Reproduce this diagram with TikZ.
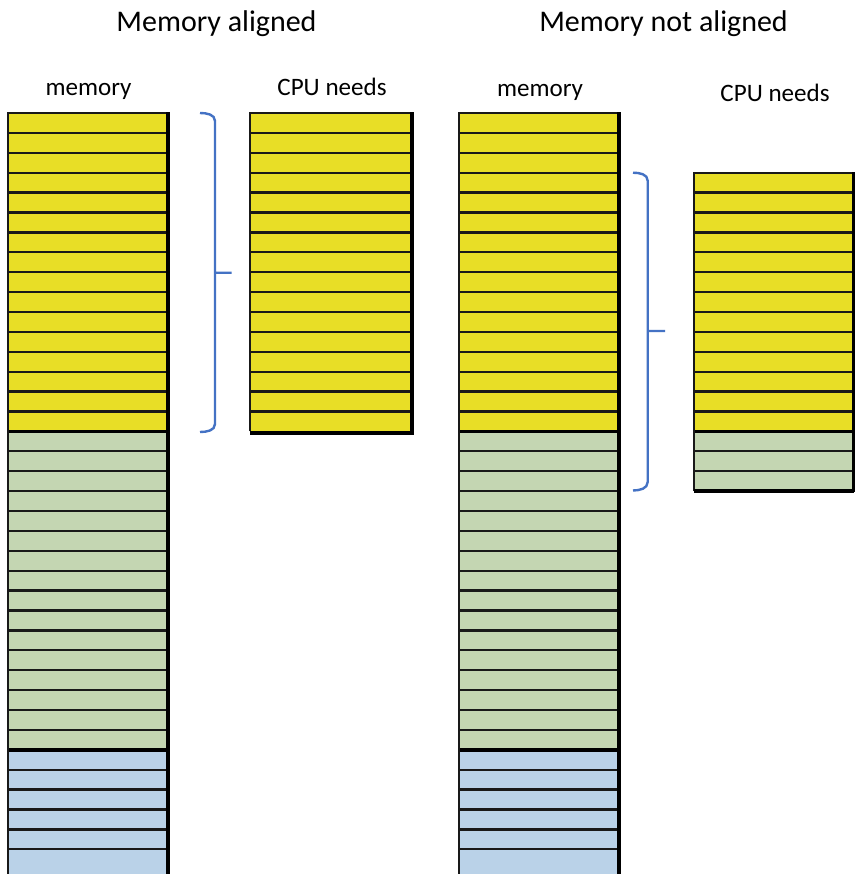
\documentclass[tikz,border=0pt]{standalone}
\usepackage{fontspec}
\setmainfont{Carlito}
\definecolor{memyellow}{RGB}{232,222,38}
\definecolor{memgreen}{RGB}{196,214,178}
\definecolor{memblue}{RGB}{186,210,232}
\definecolor{bracecol}{RGB}{68,114,196}
\tikzset{
  rowline/.style={line width=1.7pt, black!90},
  groupline/.style={line width=2.6pt, black},
  outline/.style={line width=1.7pt, black!90},
  rightedge/.style={line width=3pt, black},
  bracestyle/.style={line width=1.8pt, bracecol},
  titletext/.style={font=\fontsize{22.5}{27}\selectfont, inner sep=0pt},
  labeltext/.style={font=\fontsize{18.8}{22}\selectfont, inner sep=0pt},
}
\begin{document}
\begin{tikzpicture}[x=0.75pt,y=-0.75pt]
\useasboundingbox (0,0) rectangle (855,874);
\fill[white] (0,0) rectangle (855,874);
\begin{scope}
\clip (0,0) rectangle (855,874);
% ---------- column 1: memory (aligned) ----------
\fill[memyellow] (8,113) rectangle (167,431.4);
\fill[memgreen] (8,431.4) rectangle (167,749.8);
\fill[memblue] (8,749.8) rectangle (167,890);
\foreach \k in {1,...,37} \draw[rowline] (8,{113+\k*19.9}) -- (167,{113+\k*19.9});
\draw[groupline] (8,431.4) -- (167,431.4);
\draw[groupline] (8,749.8) -- (167,749.8);
\draw[outline] (8,890) -- (8,113) -- (167,113);
\draw[rightedge] (168,112.3) -- (168,890);
% ---------- column 2: CPU needs (aligned) ----------
\fill[memyellow] (250,113) rectangle (411,431.4);
\foreach \k in {1,...,15} \draw[rowline] (250,{113+\k*19.9}) -- (411,{113+\k*19.9});
\draw[outline] (250,431.4) -- (250,113) -- (411,113);
\draw[rightedge] (412,112.3) -- (412,432.6) -- (250,432.6);
% ---------- column 3: memory (not aligned) ----------
\fill[memyellow] (459,113) rectangle (618,431.4);
\fill[memgreen] (459,431.4) rectangle (618,749.8);
\fill[memblue] (459,749.8) rectangle (618,890);
\foreach \k in {1,...,37} \draw[rowline] (459,{113+\k*19.9}) -- (618,{113+\k*19.9});
\draw[groupline] (459,431.4) -- (618,431.4);
\draw[groupline] (459,749.8) -- (618,749.8);
\draw[outline] (459,890) -- (459,113) -- (618,113);
\draw[rightedge] (619,112.3) -- (619,890);
% ---------- column 4: CPU needs (not aligned) ----------
\fill[memyellow] (694,172.7) rectangle (853,431.4);
\fill[memgreen] (694,431.4) rectangle (853,491);
\foreach \k in {1,...,15} \draw[rowline] (694,{172.7+\k*19.9}) -- (853,{172.7+\k*19.9});
\draw[groupline] (694,431.4) -- (853,431.4);
\draw[outline] (694,491) -- (694,172.7) -- (853,172.7);
\draw[line width=1.7pt] (853.5,172) -- (853.5,491.5);
\draw[groupline] (694,491) -- (854,491);
\end{scope}
% ---------- braces ----------
\draw[bracestyle] (200,113) to[out=0,in=90] (215,121) -- (215,272.7) -- (231.7,272.7)
  (215,272.7) -- (215,424) to[out=-90,in=0] (200,432);
\draw[bracestyle] (633,172.7) to[out=0,in=90] (647.7,180.7) -- (647.7,331) -- (665,331)
  (647.7,331) -- (647.7,482) to[out=-90,in=0] (633,490.5);
% ---------- texts ----------
\node[titletext] (t1) at (216.5,23.5) {Memory aligned};
\node[titletext] (t2) at (663.5,23.5) {Memory not aligned};
\node[labeltext] (m1) at (88.5,91) {memory};
\node[labeltext] (c1) at (332,86.5) {CPU needs};
\node[labeltext] (m2) at (540,92) {memory};
\node[labeltext] (c2) at (775,92.5) {CPU needs};
\end{tikzpicture}
\end{document}
